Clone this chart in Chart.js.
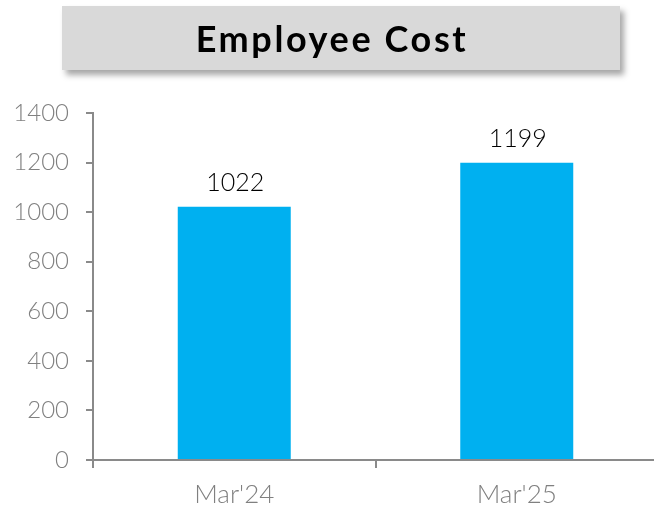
<!DOCTYPE html>
<html>
<head>
<meta charset="utf-8">
<script src="https://cdn.jsdelivr.net/npm/chart.js@4"></script>
<style>
    html, body { margin: 0; padding: 0; background: #fff; overflow: hidden; }
    #wrap { position: relative; width: 654px; height: 508px; overflow: hidden; }
    #chartBox { position: absolute; left: 0; top: 0; width: 658px; height: 508px; }
    #title {
        position: absolute; left: 62px; top: 6px; width: 540px; height: 64px;
        padding-right: 18px;
        background: #d9d9d9;
        box-shadow: 4px 5px 6px rgba(0, 0, 0, 0.35);
        font-family: Lato, sans-serif; font-weight: bold; font-size: 36px;
        letter-spacing: 2.6px;
        color: #000; text-align: center; line-height: 64px;
    }
</style>
</head>
<body>
<div id="wrap">
    <div id="chartBox"><canvas id="costChart"></canvas></div>
    <div id="title">Employee Cost</div>
</div>
<script>
// Chart data
const categories = ["Mar'24", "Mar'25"];
const employeeCost = [1022, 1199];
const yTicks = [0, 200, 400, 600, 800, 1000, 1200, 1400];

const axisGrey = "#8a8a8a";
const labelGrey = "#808080";

// Value labels above each bar
const valueLabels = {
    id: "valueLabels",
    afterDatasetsDraw(chart) {
        const ctx = chart.ctx;
        const meta = chart.getDatasetMeta(0);
        ctx.save();
        ctx.font = "300 25px Lato";
        ctx.fillStyle = "#000";
        ctx.textAlign = "center";
        ctx.textBaseline = "bottom";
        meta.data.forEach(function (bar, i) {
            ctx.fillText(String(employeeCost[i]), bar.x + 1, bar.y - 11);
        });
        ctx.restore();
    }
};

new Chart(document.getElementById("costChart"), {
    type: "bar",
    data: {
        labels: categories,
        datasets: [{
            data: employeeCost,
            backgroundColor: "#00b0f0",
            barPercentage: 0.4,
            categoryPercentage: 1
        }]
    },
    options: {
        responsive: true,
        maintainAspectRatio: false,
        animation: false,
        layout: { padding: { top: 113, left: 0, right: 0, bottom: 0 } },
        plugins: {
            legend: { display: false },
            tooltip: { enabled: false }
        },
        scales: {
            x: {
                grid: {
                    offset: true,
                    drawOnChartArea: false,
                    drawTicks: true,
                    tickLength: 8,
                    color: axisGrey,
                    lineWidth: 2
                },
                border: { color: axisGrey, width: 2 },
                ticks: {
                    color: labelGrey,
                    padding: 11,
                    font: { family: "Lato", size: 26, weight: "300" }
                },
                afterFit: function (scale) { scale.height = 48; }
            },
            y: {
                min: 0,
                max: 1400,
                afterBuildTicks: function (scale) {
                    scale.ticks = yTicks.map(function (v) { return { value: v }; });
                },
                grid: {
                    drawOnChartArea: false,
                    drawTicks: true,
                    tickLength: 7,
                    color: axisGrey,
                    lineWidth: 2
                },
                border: { color: axisGrey, width: 2 },
                ticks: {
                    color: labelGrey,
                    padding: 17,
                    callback: function (v) { return String(v); },
                    font: { family: "Lato", size: 24, weight: "300" }
                },
                afterFit: function (scale) { scale.width = 93; }
            }
        }
    },
    plugins: [valueLabels]
});
</script>
</body>
</html>
